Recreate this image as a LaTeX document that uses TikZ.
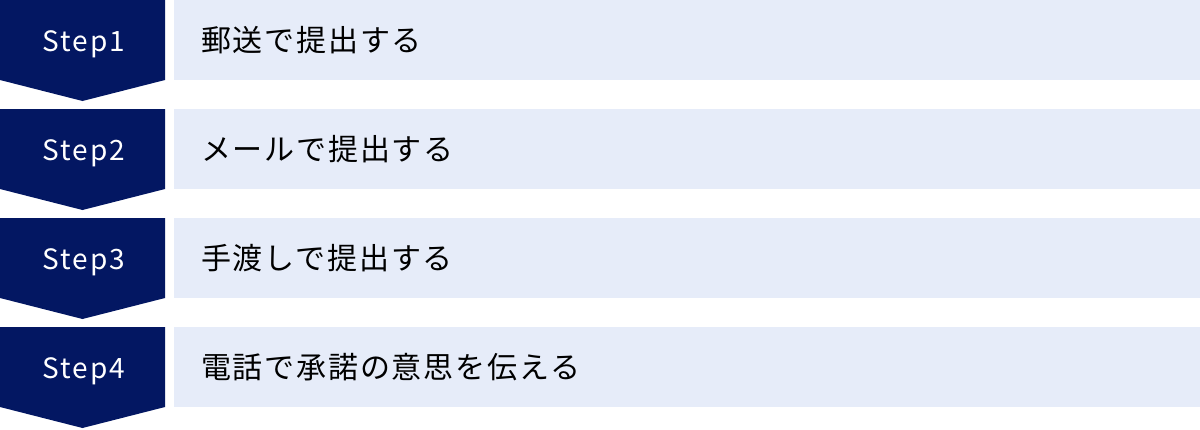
\documentclass[tikz,border=0pt]{standalone}
\usepackage{fontspec}
\setmainfont{Noto Sans CJK JP}
\newfontfamily\stepfont[LetterSpace=7]{Noto Sans CJK JP}
\newfontfamily\bodyfont[LetterSpace=6]{Noto Sans CJK JP}
\definecolor{navy}{HTML}{031762}
\definecolor{lightbg}{HTML}{E6ECF9}
\tikzset{
  stepshape/.style={fill=navy, draw=none},
  bodybox/.style={fill=lightbg, draw=none},
  steplabel/.style={text=white, font=\stepfont\fontsize{28}{30}\selectfont, inner sep=0pt, anchor=base},
  bodylabel/.style={text=black, font=\bodyfont\fontsize{30}{34}\selectfont, inner sep=0pt, anchor=base west},
}
\begin{document}
\begin{tikzpicture}[x=1pt,y=-1pt]
\useasboundingbox (0,0) rectangle (1200,429);
\foreach \i/\t in {1/郵送で提出する, 2/メールで提出する, 3/手渡しで提出する, 4/電話で承諾の意思を伝える}{
  \pgfmathsetmacro{\top}{(\i-1)*109}
  \fill[stepshape] (0,\top) -- (165,\top) -- (165,\top+80) -- (82.5,\top+101) -- (0,\top+80) -- cycle;
  \fill[bodybox] (174,\top) rectangle (1200,\top+80);
  \node[steplabel] (s\i) at (84,\top+51.5) {Step\i};
  \node[bodylabel] (b\i) at (201,\top+51.5) {\t};
}
\end{tikzpicture}
\end{document}
